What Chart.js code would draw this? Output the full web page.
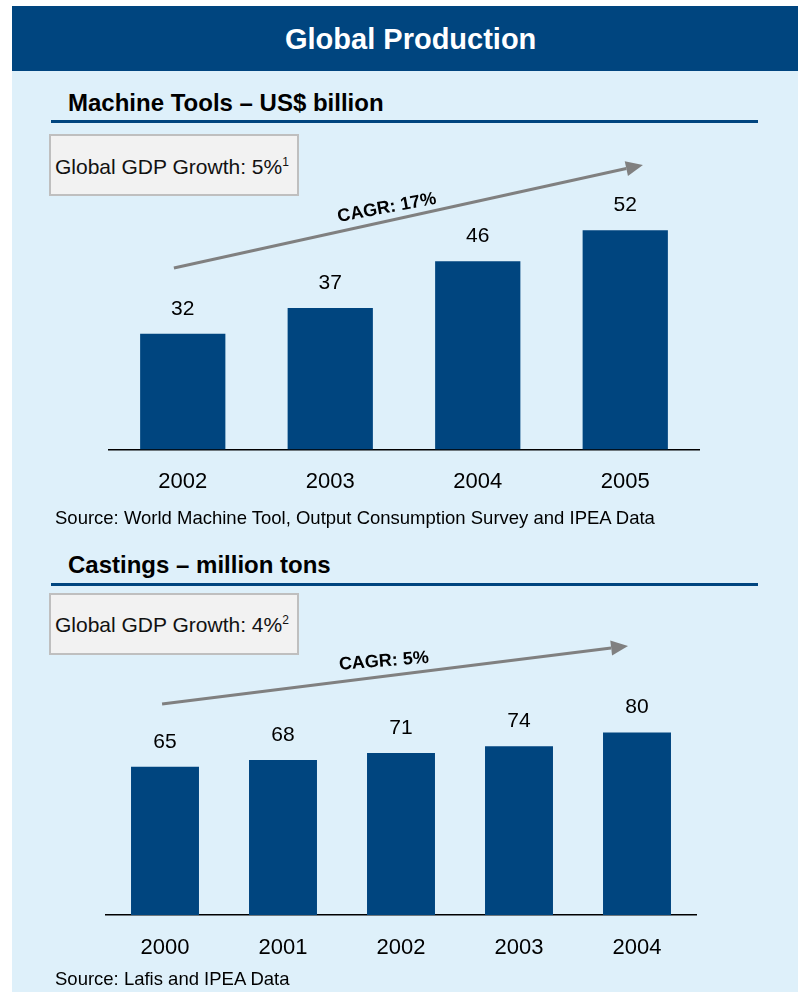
<!DOCTYPE html>
<html>
<head>
<meta charset="utf-8">
<script src="https://cdn.jsdelivr.net/npm/chart.js@4/dist/chart.umd.min.js"></script>
<style>
  html, body { margin: 0; padding: 0; background: #ffffff; }
  body { width: 798px; height: 992px; position: relative; overflow: hidden;
         font-family: "Liberation Sans", Arial, sans-serif; color: #000; }
  #panel { position: absolute; left: 12px; top: 6px; right: 0; bottom: 0; background: #def0fa; }
  #band { position: absolute; left: 12px; top: 6px; right: 0; height: 65px; background: #00457f; }
  .t { position: absolute; white-space: nowrap; line-height: 1; }
  .title { left: 285px; top: 25px; font-size: 29px; font-weight: bold; color: #fff; }
  .sub { left: 68px; font-size: 24px; font-weight: bold; }
  .rule { position: absolute; left: 51px; width: 707px; height: 3px; background: #00457f; }
  .box { position: absolute; left: 49px; width: 250px; height: 62px; box-sizing: border-box;
         border: 2px solid #bfbfbf; background: #f2f2f2; }
  .boxtext { left: 55px; font-size: 21px; color: #111; }
  .boxtext span { font-size: 12px; position: relative; top: -8px; }
  .src { left: 55px; font-size: 18.5px; }
  .plot { position: absolute; left: 0; }
</style>
</head>
<body>
<div id="panel"></div>
<div id="band"></div>
<div class="t title">Global Production</div>

<div class="t sub" style="top:90.7px">Machine Tools – US$ billion</div>
<div class="rule" style="top:120px"></div>
<div class="box" style="top:134px"></div>
<div class="t boxtext" style="top:156px">Global GDP Growth: 5%<span>1</span></div>
<canvas id="tools" class="plot" style="top:140px" width="798" height="400"></canvas>
<div class="t src" style="top:508.6px">Source: World Machine Tool, Output Consumption Survey and IPEA Data</div>

<div class="t sub" style="top:552.7px">Castings – million tons</div>
<div class="rule" style="top:583px"></div>
<div class="box" style="top:593px"></div>
<div class="t boxtext" style="top:614px">Global GDP Growth: 4%<span>2</span></div>
<canvas id="castings" class="plot" style="top:600px" width="798" height="392"></canvas>
<div class="t src" style="top:970.3px">Source: Lafis and IPEA Data</div>

<script>
// Machine tools output, US$ billion
const toolYears = ['2002', '2003', '2004', '2005'];
const toolValues = [32, 37, 46, 52];

// Castings output, million tons
const castYears = ['2000', '2001', '2002', '2003', '2004'];
const castValues = [65, 68, 71, 74, 80];

const FONT = '"Liberation Sans", Arial, sans-serif';
const BAR_BLUE = '#00457f';
Chart.defaults.font.family = FONT;

// Writes each bar's value above it
const barValues = {
  id: 'barValues',
  afterDatasetsDraw(chart, args, opts) {
    const ctx = chart.ctx;
    const meta = chart.getDatasetMeta(0);
    const values = chart.data.datasets[0].data;
    ctx.save();
    ctx.font = '21px ' + FONT;
    ctx.fillStyle = '#000';
    ctx.textAlign = 'center';
    ctx.textBaseline = 'middle';
    meta.data.forEach((bar, i) => {
      ctx.fillText(String(values[i]), bar.x, bar.y - opts.gap);
    });
    ctx.restore();
  }
};

// Grey growth arrow with its CAGR caption, placed in data space
const trendArrow = {
  id: 'trendArrow',
  afterDatasetsDraw(chart, args, opts) {
    const { ctx, scales: { x, y } } = chart;
    const x0 = x.getPixelForValue(opts.from[0]), y0 = y.getPixelForValue(opts.from[1]);
    const x1 = x.getPixelForValue(opts.to[0]), y1 = y.getPixelForValue(opts.to[1]);
    const dx = x1 - x0, dy = y1 - y0, len = Math.hypot(dx, dy);
    const ux = dx / len, uy = dy / len;
    const headLen = 17, headHalf = 7.5;
    const bx = x1 - ux * headLen, by = y1 - uy * headLen;
    ctx.save();
    ctx.strokeStyle = '#808080';
    ctx.fillStyle = '#808080';
    ctx.lineWidth = 3;
    ctx.beginPath();
    ctx.moveTo(x0, y0);
    ctx.lineTo(bx, by);
    ctx.stroke();
    ctx.beginPath();
    ctx.moveTo(x1, y1);
    ctx.lineTo(bx - uy * headHalf, by + ux * headHalf);
    ctx.lineTo(bx + uy * headHalf, by - ux * headHalf);
    ctx.closePath();
    ctx.fill();
    // caption
    const px = x0 + dx * opts.at + uy * opts.offset;
    const py = y0 + dy * opts.at - ux * opts.offset;
    ctx.translate(px, py);
    ctx.rotate(-opts.textAngle * Math.PI / 180);
    ctx.font = 'bold 18px ' + FONT;
    ctx.fillStyle = '#000';
    ctx.textAlign = 'center';
    ctx.textBaseline = 'middle';
    ctx.fillText(opts.label, 0, 0);
    ctx.restore();
  }
};

function barChart(id, labels, values, cfg) {
  return new Chart(document.getElementById(id), {
    type: 'bar',
    data: {
      labels: labels,
      datasets: [{
        data: values,
        backgroundColor: BAR_BLUE,
        barPercentage: cfg.barPct,
        categoryPercentage: 1
      }]
    },
    options: {
      responsive: false,
      animation: false,
      devicePixelRatio: 1,
      events: [],
      layout: { padding: cfg.padding },
      plugins: {
        legend: { display: false },
        tooltip: { enabled: false },
        barValues: { gap: 25 },
        trendArrow: cfg.arrow
      },
      scales: {
        x: {
          grid: { display: false, drawTicks: false },
          border: { display: true, color: '#000', width: 1.5 },
          ticks: { padding: 19.5, color: '#000', font: { size: 22 } },
          afterFit(scale) { scale.height = 60; }
        },
        y: { display: false, min: cfg.yMin, max: cfg.yMax }
      }
    },
    plugins: [barValues, trendArrow]
  });
}

barChart('tools', toolYears, toolValues, {
  barPct: 0.578,
  yMin: 9.7, yMax: 59.7,
  padding: { left: 109, right: 99, top: 50.3, bottom: 30.7 },
  arrow: { from: [-0.06, 44.7], to: [3.12, 64.6], label: 'CAGR: 17%', at: 0.46, offset: 13, textAngle: 10.5 }
});

barChart('castings', castYears, castValues, {
  barPct: 0.576,
  yMin: 0, yMax: 100,
  padding: { left: 106, right: 102, top: 87, bottom: 17 },
  arrow: { from: [-0.025, 92.5], to: [3.924, 118], label: 'CAGR: 5%', at: 0.48, offset: 15, textAngle: 4.5 }
});
</script>
</body>
</html>
